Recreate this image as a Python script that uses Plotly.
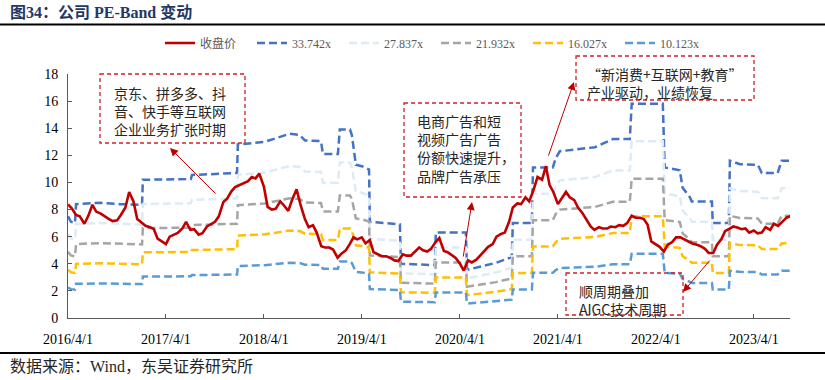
import numpy as np
import pandas as pd
import plotly.graph_objects as go

# ---------------- data ----------------
close_start = "2016-04-01"
close_values = [
    8.37, 8.1, 7.6, 7.5, 6.95, 7.5, 8.35, 7.85, 7.7, 7.5,
    7.3, 7.15, 7.2, 7.6, 8.15, 9.3, 8.6, 7.3, 7.0, 6.8,
    6.7, 6.55, 5.85, 5.65, 5.45, 6.0, 6.15, 6.27, 6.6, 7.1,
    6.5, 6.55, 6.15, 6.25, 6.75, 6.9, 7.1, 7.5, 8.55, 8.8,
    9.35, 9.65, 9.8, 9.9, 10.1, 10.4, 10.3, 10.65, 9.7, 8.2,
    8.0, 8.05, 8.6, 8.3, 7.9, 8.7, 9.5, 8.4, 7.3, 6.7,
    6.85, 6.3, 5.3, 5.2, 5.2, 5.05, 4.45, 4.75, 5.0, 5.45,
    5.95, 5.8, 5.95, 5.5, 5.75, 4.85, 4.67, 4.56, 4.55, 4.45,
    4.25, 4.2, 4.7, 4.6, 4.6, 4.9, 5.2, 5.0, 4.9, 5.1,
    5.6, 5.9, 4.95, 4.85, 4.67, 4.45, 4.0, 3.5, 4.25, 4.1,
    4.3, 4.6, 4.9, 5.25, 5.45, 6.0, 6.2, 6.3, 7.1, 8.15,
    8.45, 8.4, 8.9, 8.6, 9.5, 10.4, 10.2, 11.2, 9.8, 9.3,
    8.4, 8.8, 9.3, 8.9, 8.7, 8.15, 7.75, 7.3, 6.75, 6.5,
    6.7, 6.6, 6.6, 6.75, 6.7, 6.85, 6.8, 7.0, 7.55, 7.4,
    7.4, 7.3, 6.9, 5.65, 5.45, 5.25, 4.9, 5.4, 5.6, 5.95,
    5.95, 5.8, 5.6, 5.5, 5.4, 5.3, 5.1, 4.8, 4.8, 5.4,
    5.8, 6.4, 6.6, 6.75, 6.65, 6.55, 6.6, 6.3, 6.45, 6.25,
    6.3, 6.7, 6.5, 6.95, 6.8, 7.1, 7.4, 7.5,
]
close_dates = pd.date_range(close_start, periods=len(close_values), freq="SMS")

band_dates = [
    "2016-04-01", "2016-04-12", "2016-04-27", "2016-05-01", "2016-07-29", "2016-10-12",
    "2017-01-02", "2017-01-05", "2017-07-03", "2017-07-07", "2017-12-22", "2017-12-25",
    "2018-04-05", "2018-07-07", "2018-08-13", "2018-09-01", "2018-10-31", "2018-11-07",
    "2019-01-02", "2019-01-09", "2019-02-16", "2019-02-23", "2019-03-10", "2019-04-01",
    "2019-04-28", "2019-05-01", "2019-08-21", "2019-08-25", "2019-12-29", "2020-01-02",
    "2020-04-23", "2020-04-27", "2020-08-13", "2020-10-11", "2020-10-15", "2020-12-25",
    "2020-12-29", "2021-03-13", "2021-03-24", "2021-04-08", "2021-08-17", "2021-10-23",
    "2021-12-25", "2022-01-01", "2022-04-27", "2022-05-04", "2022-06-29", "2022-07-10",
    "2022-08-06", "2022-08-13", "2022-10-27", "2022-10-30", "2022-12-29", "2023-01-02",
    "2023-02-08", "2023-04-16", "2023-05-01", "2023-06-29", "2023-07-14", "2023-08-13",
]
# values of the 33.742x band
top_band_values = [
    7.5, 7.1, 7.0, 8.4, 8.5, 8.4, 8.35, 10.2, 10.25, 10.55,
    10.7, 12.8, 13.0, 13.6, 13.5, 13.1, 13.05, 12.1, 12.1, 13.9,
    13.9, 13.5, 11.3, 11.2, 10.95, 7.1, 6.9, 4.0, 3.9, 6.3,
    6.3, 3.55, 4.07, 4.5, 7.0, 7.0, 11.1, 11.1, 11.8, 12.3,
    12.6, 13.2, 13.2, 15.8, 15.8, 11.1, 10.9, 9.6, 8.9, 8.6,
    8.6, 7.0, 7.0, 11.6, 11.35, 11.3, 10.7, 10.7, 11.6, 11.6,
]
pe_multiples = [33.742, 27.837, 21.932, 16.027, 10.123]
band_names = ["33.742x", "27.837x", "21.932x", "16.027x", "10.123x"]
band_colors = ["#4472C4", "#DDEBF7", "#A5A5A5", "#FFC000", "#5B9BD5"]

# implied EPS series (band = multiple x EPS)
eps = np.array(top_band_values) / pe_multiples[0]

y_ticks = [0, 2, 4, 6, 8, 10, 12, 14, 16, 18]
x_ticks = ["2016-04-01", "2017-04-01", "2018-04-01", "2019-04-01",
           "2020-04-01", "2021-04-01", "2022-04-01", "2023-04-01"]
x_tick_labels = ["2016/4/1", "2017/4/1", "2018/4/1", "2019/4/1",
                 "2020/4/1", "2021/4/1", "2022/4/1", "2023/4/1"]

# ---------------- layout geometry (pixels) ----------------
W, H = 825, 380
L, R, T, B = 68, 790, 74, 318


def px(x):
    return (x - L) / (R - L)


def py(y):
    return (B - y) / (B - T)


SERIF = "Liberation Serif, Times New Roman, Noto Sans CJK SC, serif"
CJK = "Noto Sans CJK SC, sans-serif"
RED = "#C00000"

fig = go.Figure()
for i, (m, name, col) in enumerate(zip(pe_multiples, band_names, band_colors)):
    fig.add_trace(go.Scatter(
        x=pd.to_datetime(band_dates), y=m * eps, name=name, mode="lines",
        line=dict(color=col, width=2.5, dash="8px,4px"),
        legendrank=2 + i, hoverinfo="skip",
    ))
fig.add_trace(go.Scatter(
    x=close_dates, y=close_values, name="收盘价", mode="lines",
    line=dict(color=RED, width=2.6), legendrank=1,
))

shapes = []
# title rule and bottom rule
shapes.append(dict(type="line", xref="paper", yref="paper", x0=px(0), x1=px(W),
                   y0=py(24.5), y1=py(24.5), line=dict(color="#000000", width=2)))
shapes.append(dict(type="line", xref="paper", yref="paper", x0=px(0), x1=px(W),
                   y0=py(353), y1=py(353), line=dict(color="#000000", width=2)))
# dashed annotation boxes
boxes = [(100, 74, 245, 143), (404, 103, 521, 197), (576, 56, 754, 100), (566, 273, 683, 315)]
for (x0, y0, x1, y1) in boxes:
    shapes.append(dict(type="rect", xref="paper", yref="paper",
                       x0=px(x0), x1=px(x1), y0=py(y0), y1=py(y1),
                       line=dict(color="#D0202A", width=1.3, dash="4px,3px"),
                       fillcolor="rgba(0,0,0,0)", layer="above"))

annotations = []
annotations.append(dict(xref="paper", yref="paper", x=px(8), y=py(12), xanchor="left",
                        yanchor="middle", showarrow=False,
                        text="<b>图34：公司 PE-Band 变动</b>",
                        font=dict(family=SERIF, size=16, color="#1F3864")))
annotations.append(dict(xref="paper", yref="paper", x=px(8), y=py(366), xanchor="left",
                        yanchor="middle", showarrow=False,
                        text="数据来源：Wind，东吴证券研究所",
                        font=dict(family=SERIF, size=16, color="#262626")))

box_texts = [
    (112, 81, "京东、拼多多、抖<br>音、快手等互联网<br>企业业务扩张时期"),
    (415, 109, "电商广告和短<br>视频广告广告<br>份额快速提升，<br>品牌广告承压"),
    (585, 62, "“新消费+互联网+教育”<br>产业驱动，业绩恢复"),
    (577, 279, "顺周期叠加<br>AIGC技术周期"),
]
for (x0, y0, txt) in box_texts:
    annotations.append(dict(xref="paper", yref="paper", x=px(x0), y=py(y0),
                            xanchor="left", yanchor="top", align="left", showarrow=False,
                            text=txt, font=dict(family=CJK, size=14, color="#262626")))

arrows = [(170, 148, 47, 47), (472, 202, -9, 56), (574, 82, -26, 75), (683, 292, 28, -33)]
for (hx, hy, ax, ay) in arrows:
    annotations.append(dict(xref="paper", yref="paper", x=px(hx), y=py(hy),
                            ax=ax, ay=ay, text="", showarrow=True, arrowhead=2,
                            arrowsize=1.6, arrowwidth=1, arrowcolor=RED, standoff=0))

fig.update_layout(
    width=W, height=H,
    margin=dict(l=L, r=W - R, t=T, b=H - B),
    paper_bgcolor="white", plot_bgcolor="white",
    showlegend=True,
    legend=dict(orientation="h", x=px(160), y=py(43), xanchor="left", yanchor="middle",
                font=dict(family=SERIF, size=12, color="#595959"),
                bgcolor="rgba(0,0,0,0)", traceorder="normal", itemwidth=30,
                entrywidth=47, entrywidthmode="pixels"),
    shapes=shapes, annotations=annotations,
)
fig.update_xaxes(
    type="date", range=["2016-04-01", "2023-08-14"],
    tickvals=pd.to_datetime(x_ticks), ticktext=x_tick_labels,
    ticks="inside", ticklen=4, tickcolor="#595959",
    showline=True, linecolor="#595959", linewidth=1, showgrid=False, zeroline=False,
    tickfont=dict(family=SERIF, size=14, color="#000000"), ticklabelstandoff=8,
)
fig.update_yaxes(
    range=[0, 18], tickvals=y_ticks, ticks="inside", ticklen=4, tickcolor="#595959",
    showline=True, linecolor="#595959", linewidth=1, showgrid=False, zeroline=False,
    tickfont=dict(family=SERIF, size=14, color="#000000"), ticklabelstandoff=6,
)

fig.write_html("out.html", config={"displayModeBar": False},
               post_script="document.body.style.margin='0';document.body.style.overflow='hidden';")
